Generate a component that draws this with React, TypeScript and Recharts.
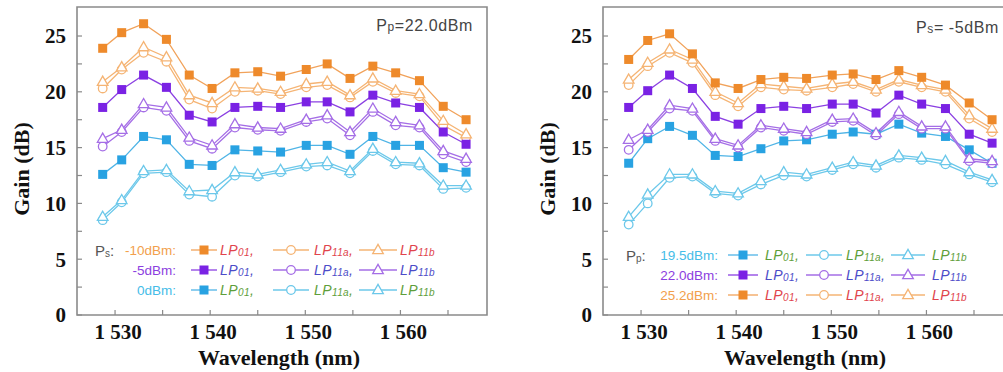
import React from 'react';
import { LineChart, Line, XAxis, YAxis, ReferenceArea } from 'recharts';

// wavelength of every measured point (nm), same grid in both panels
const wavelengths = [1528.7, 1530.7, 1533.0, 1535.4, 1537.8, 1540.2, 1542.6, 1545.0, 1547.4, 1550.1, 1552.3, 1554.7, 1557.1, 1559.5, 1562.0, 1564.5, 1566.9];
const xTicks = [1530, 1535, 1540, 1545, 1550, 1555, 1560, 1565];
const yTicks = [0, 2.5, 5, 7.5, 10, 12.5, 15, 17.5, 20, 22.5, 25];

// left panel: Pp = 22.0 dBm, signal power varied
const ps10Lp01 = [23.9, 25.3, 26.1, 24.7, 21.5, 20.3, 21.7, 21.8, 21.4, 22.0, 22.5, 21.2, 22.3, 21.7, 21.0, 18.7, 17.5];
const ps10Lp11a = [20.3, 22.0, 23.5, 22.7, 19.3, 18.5, 20.0, 20.1, 19.8, 20.4, 20.6, 19.5, 20.9, 19.9, 19.6, 17.0, 15.9];
const ps10Lp11b = [20.9, 22.2, 24.0, 23.1, 19.7, 19.0, 20.4, 20.3, 20.0, 20.7, 20.9, 19.7, 21.2, 20.1, 19.8, 17.4, 16.2];
const ps5Lp01 = [18.6, 20.2, 21.5, 20.4, 17.9, 17.3, 18.6, 18.7, 18.6, 19.1, 19.1, 18.2, 19.7, 19.0, 18.6, 16.4, 15.3];
const ps5Lp11a = [15.1, 16.4, 18.6, 18.3, 15.6, 14.9, 16.8, 16.6, 16.5, 17.3, 17.6, 16.1, 18.2, 17.0, 16.8, 14.4, 13.7];
const ps5Lp11b = [15.8, 16.6, 18.9, 18.6, 15.9, 15.2, 17.1, 16.8, 16.7, 17.5, 17.9, 16.4, 18.5, 17.3, 17.0, 14.7, 14.0];
const ps0Lp01 = [12.6, 13.9, 16.0, 15.7, 13.5, 13.4, 14.8, 14.7, 14.6, 15.2, 15.2, 14.4, 16.0, 15.2, 15.2, 13.2, 12.8];
const ps0Lp11a = [8.5, 10.1, 12.7, 12.8, 10.8, 10.6, 12.5, 12.4, 12.8, 13.3, 13.4, 12.7, 14.7, 13.5, 13.4, 11.3, 11.4];
const ps0Lp11b = [8.8, 10.3, 12.9, 13.0, 11.1, 11.2, 12.8, 12.6, 13.0, 13.5, 13.7, 12.9, 14.9, 13.7, 13.6, 11.6, 11.6];

// right panel: Ps = -5 dBm, pump power varied
const pp195Lp01 = [13.6, 15.8, 16.9, 16.1, 14.3, 14.2, 14.9, 15.6, 15.7, 16.2, 16.4, 16.2, 17.1, 16.3, 16.0, 14.8, 13.6];
const pp195Lp11a = [8.1, 10.0, 12.3, 12.4, 10.9, 10.7, 11.7, 12.5, 12.4, 13.0, 13.5, 13.2, 14.1, 13.9, 13.5, 12.6, 11.9];
const pp195Lp11b = [8.8, 10.8, 12.6, 12.6, 11.1, 10.9, 12.0, 12.8, 12.6, 13.2, 13.7, 13.4, 14.3, 14.1, 13.8, 12.8, 12.1];
const pp220Lp01 = [18.6, 20.1, 21.5, 20.3, 17.8, 17.1, 18.5, 18.7, 18.5, 18.9, 18.9, 18.1, 19.7, 18.9, 18.5, 16.2, 15.4];
const pp220Lp11a = [14.8, 16.4, 18.5, 18.3, 15.6, 15.0, 16.8, 16.5, 16.2, 17.3, 17.4, 16.1, 18.0, 16.7, 16.7, 13.8, 13.6];
const pp220Lp11b = [15.7, 16.6, 18.8, 18.5, 15.8, 15.2, 17.0, 16.7, 16.4, 17.5, 17.6, 16.3, 18.2, 16.9, 16.9, 14.0, 13.8];
const pp252Lp01 = [22.9, 24.6, 25.2, 23.4, 20.8, 20.3, 21.1, 21.3, 21.2, 21.5, 21.6, 21.1, 21.9, 21.3, 20.6, 19.0, 17.5];
const pp252Lp11a = [20.6, 22.3, 23.5, 22.6, 19.7, 18.7, 20.4, 20.2, 20.1, 20.4, 20.7, 20.0, 20.9, 20.4, 20.0, 17.6, 16.4];
const pp252Lp11b = [21.1, 22.6, 23.8, 22.9, 20.0, 19.0, 20.7, 20.5, 20.3, 20.7, 20.9, 20.2, 21.1, 20.6, 20.2, 17.9, 16.7];

type Tone = { fill: string; line: string; open: string; text: string };
const orange: Tone = { fill: '#ee8a2b', line: '#f1a25a', open: '#f5b474', text: '#f2a04c' };
const purple: Tone = { fill: '#7a22e4', line: '#8b40e2', open: '#a56ee6', text: '#8c3ee0' };
const blue: Tone = { fill: '#28a2e2', line: '#4fb4e6', open: '#6cc8ea', text: '#45bce8' };

const red = '#e0444c';
const indigo = '#4c4cc8';
const green = '#5e9e3a';

const modes = ['LP01', 'LP11a', 'LP11b'];
const serif = '"Liberation Serif", "Times New Roman", serif';
const sans = '"Liberation Sans", Arial, sans-serif';

type Row = { power: string; tone: Tone; lpColor: string; values: number[][] };

const leftRows: Row[] = [
  { power: '-10dBm:', tone: orange, lpColor: red, values: [ps10Lp01, ps10Lp11a, ps10Lp11b] },
  { power: '-5dBm:', tone: purple, lpColor: indigo, values: [ps5Lp01, ps5Lp11a, ps5Lp11b] },
  { power: '0dBm:', tone: blue, lpColor: green, values: [ps0Lp01, ps0Lp11a, ps0Lp11b] },
];
const rightRows: Row[] = [
  { power: '19.5dBm:', tone: blue, lpColor: green, values: [pp195Lp01, pp195Lp11a, pp195Lp11b] },
  { power: '22.0dBm:', tone: purple, lpColor: indigo, values: [pp220Lp01, pp220Lp11a, pp220Lp11b] },
  { power: '25.2dBm:', tone: orange, lpColor: red, values: [pp252Lp01, pp252Lp11a, pp252Lp11b] },
];

const drawMarker = (mode: string, tone: Tone, cx: number, cy: number, key?: any) => {
  if (mode === 'LP01') return <rect key={key} x={cx - 4.5} y={cy - 4.5} width={9} height={9} fill={tone.fill} />;
  if (mode === 'LP11a') return <circle key={key} cx={cx} cy={cy} r={4.3} fill="#fff" stroke={tone.open} strokeWidth={1.3} />;
  return (
    <polygon key={key} points={`${cx},${cy - 5.6} ${cx - 5.3},${cy + 3.6} ${cx + 5.3},${cy + 3.6}`}
      fill="#fff" stroke={tone.open} strokeWidth={1.3} />
  );
};

const XTick = (props: any) => {
  const { x, y, payload } = props;
  const v = payload.value;
  return (
    <g>
      <line x1={x} x2={x} y1={y} y2={y - 5} stroke="#8a8a8a" strokeWidth={1.2} />
      {v % 10 === 0 && (
        <text x={x + 3} y={y + 24} textAnchor="middle" fontFamily={serif} fontWeight="bold" fontSize={21} fill="#111">
          {`1 ${String(v).slice(1)}`}
        </text>
      )}
    </g>
  );
};

const YTick = (props: any) => {
  const { x, y, payload } = props;
  const v = payload.value;
  return (
    <g>
      <line x1={x} x2={x + 5} y1={y} y2={y} stroke="#8a8a8a" strokeWidth={1.2} />
      {v % 5 === 0 && (
        <text x={x - 11} y={y} dy="0.35em" textAnchor="end" fontFamily={serif} fontWeight="bold" fontSize={21} fill="#111">
          {v}
        </text>
      )}
    </g>
  );
};

type LegendLayout = {
  title: number; powerEnd: number; rows: number[];
  marks: number[]; half: number[]; texts: number[];
};

const leftLayout: LegendLayout = { title: 95, powerEnd: 176, rows: [250, 270, 290], marks: [204, 291, 378], half: [13, 18, 19], texts: [220, 314, 400] };
const rightLayout: LegendLayout = { title: 100, powerEnd: 192, rows: [255, 275, 295], marks: [217, 298, 382], half: [15, 18, 17], texts: [239, 320, 406] };

const LpText = ({ x, y, mode, color, comma }: any) => (
  <text x={x} y={y} dominantBaseline="central" fill={color} fontFamily={sans} fontStyle="italic" fontSize={14} letterSpacing={0.4}>
    LP<tspan fontSize={10} dy={2}>{mode.slice(2)}</tspan>
    {comma && <tspan dy={-2}>,</tspan>}
  </text>
);

const PanelOverlay = ({ layout, rows, sub, note, noteSub, noteY }: any) => (
  <svg width={500} height={372} style={{ position: 'absolute', left: 0, top: 0, pointerEvents: 'none' }}>
    <text x={473} y={noteY} textAnchor="end" dominantBaseline="central" fill="#444" fontFamily={sans} fontSize={16} letterSpacing={0.6}>
      P<tspan fontSize={12} dy={2}>{noteSub}</tspan><tspan dy={-2}>{note}</tspan>
    </text>
    <text x={layout.title} y={layout.rows[0]} dominantBaseline="central" fill="#555" fontFamily={sans} fontSize={15}>
      P<tspan fontSize={10} dy={3}>{sub}</tspan><tspan dy={-3}>:</tspan>
    </text>
    {rows.map((r: Row, i: number) => {
      const y = layout.rows[i];
      return (
        <g key={i}>
          <text x={layout.powerEnd} y={y} textAnchor="end" dominantBaseline="central" fill={r.tone.text}
            fontFamily={sans} fontSize={13.5}>
            {r.power}
          </text>
          {modes.map((m, j) => (
            <g key={m}>
              <line x1={layout.marks[j] - layout.half[j]} x2={layout.marks[j] + layout.half[j]} y1={y} y2={y}
                stroke={j === 0 ? r.tone.line : r.tone.open} strokeWidth={1.3} />
              {drawMarker(m, r.tone, layout.marks[j], y)}
              <LpText x={layout.texts[j]} y={y} mode={m} color={r.lpColor} comma={j < 2} />
            </g>
          ))}
        </g>
      );
    })}
  </svg>
);

const GainPanel = ({ rows, left, overlay }: { rows: Row[]; left: number; overlay: React.ReactNode }) => {
  const data = wavelengths.map((w, i) => {
    const row: any = { w };
    rows.forEach((r, ri) => r.values.forEach((vals, mi) => { row[`s${ri}${mi}`] = vals[i]; }));
    return row;
  });
  // draw open markers first, filled squares on top
  const order: [number, number][] = [];
  rows.forEach((_, ri) => { order.push([ri, 1], [ri, 2], [ri, 0]); });

  return (
    <div style={{ position: 'absolute', left, top: 0, width: 500, height: 372 }}>
      <LineChart width={500} height={372} data={data} margin={{ top: 7, right: 13, left: 0, bottom: 0 }}>
        <XAxis dataKey="w" type="number" domain={[1526, 1569.1]} allowDataOverflow ticks={xTicks}
          axisLine={false} tickLine={false} tickSize={0} tickMargin={0} height={57} tick={<XTick />}
          label={{
            content: (p: any) => {
              const vb = p.viewBox || { x: 77, y: 315, width: 410 };
              return (
                <text x={vb.x + vb.width / 2 - 3} y={vb.y + 42} dominantBaseline="central" textAnchor="middle"
                  fontFamily={serif} fontWeight="bold" fontSize={22} fill="#111">
                  Wavelength (nm)
                </text>
              );
            },
          }} />
        <YAxis type="number" domain={[0, 27.6]} allowDataOverflow ticks={yTicks} width={77}
          axisLine={false} tickLine={false} tickSize={0} tickMargin={0} tick={<YTick />}
          label={{
            content: (p: any) => {
              const vb = p.viewBox || { x: 0, y: 7, height: 308 };
              const cx = 21;
              const cy = vb.y + vb.height / 2 + 8;
              return (
                <text x={cx} y={cy} transform={`rotate(-90 ${cx} ${cy})`} dominantBaseline="central" textAnchor="middle"
                  fontFamily={serif} fontWeight="bold" fontSize={22} fill="#111">
                  Gain (dB)
                </text>
              );
            },
          }} />
        <ReferenceArea x1={1526} x2={1569.1} y1={0} y2={27.6} fill="none" stroke="#8a8a8a" strokeWidth={1.6} />
        {order.map(([ri, mi]) => {
          const r = rows[ri];
          const mode = modes[mi];
          return (
            <Line key={`s${ri}${mi}`} dataKey={`s${ri}${mi}`} type="linear"
              stroke={mi === 0 ? r.tone.line : r.tone.open} strokeWidth={1.3}
              dot={(p: any) => drawMarker(mode, r.tone, p.cx, p.cy, p.index)}
              activeDot={false} isAnimationActive={false} />
          );
        })}
      </LineChart>
      {overlay}
    </div>
  );
};

export default function App() {
  return (
    <div style={{ position: 'absolute', left: 0, top: 0, width: 1003, height: 372, overflow: 'hidden', background: '#fff' }}>
      <GainPanel rows={leftRows} left={0}
        overlay={<PanelOverlay layout={leftLayout} rows={leftRows} sub="s" noteSub="p" note="=22.0dBm" noteY={25} />} />
      <GainPanel rows={rightRows} left={526}
        overlay={<PanelOverlay layout={rightLayout} rows={rightRows} sub="p" noteSub="s" note="= -5dBm" noteY={27} />} />
    </div>
  );
}
